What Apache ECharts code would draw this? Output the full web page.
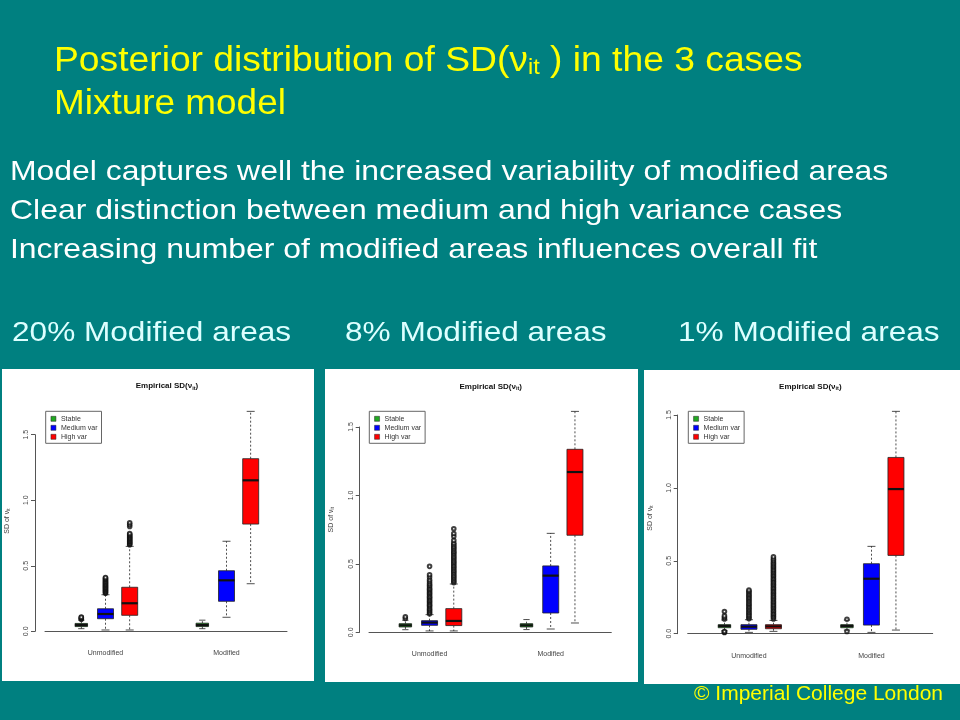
<!DOCTYPE html>
<html>
<head>
<meta charset="utf-8">
<script src="https://cdn.jsdelivr.net/npm/echarts@6/dist/echarts.min.js"></script>
<style>
html,body{margin:0;padding:0;background:#008080;}
#chart{width:960px;height:720px;}
</style>
</head>
<body>
<div id="chart"></div>
<script>
// ---------------- data ----------------
const slideTitle1 = ['Posterior distribution of SD(', 'ν', 'it', ' ) in the 3 cases'];
const slideTitle2 = 'Mixture model';
const bulletLines = [
  'Model captures well the increased variability of modified areas',
  'Clear distinction between medium and high variance cases',
  'Increasing number of modified areas influences overall fit'
];
const caseLabels = ['20% Modified areas', '8% Modified areas', '1% Modified areas'];
const copyright = '© Imperial College London';
const groupLabels = ['Unmodified', 'Modified'];
const seriesNames = ['Stable', 'Medium var', 'High var'];
const yTicks = [0, 0.5, 1.0, 1.5];

// five-number summaries [min, Q1, median, Q3, max] for [Unmodified, Modified]
const p20Stable = [[0.020, 0.036, 0.048, 0.060, 0.085], [0.020, 0.036, 0.048, 0.062, 0.085]];
const p20Medium = [[0.010, 0.096, 0.132, 0.172, 0.279], [0.107, 0.229, 0.389, 0.462, 0.687]];
const p20High   = [[0.010, 0.122, 0.214, 0.336, 0.648], [0.363, 0.818, 1.152, 1.317, 1.678]];

const p8Stable = [[0.019, 0.039, 0.051, 0.063, 0.088], [0.020, 0.039, 0.051, 0.063, 0.093]];
const p8Medium = [[0.010, 0.051, 0.071, 0.085, 0.129], [0.024, 0.141, 0.414, 0.485, 0.723]];
const p8High   = [[0.010, 0.049, 0.083, 0.173, 0.353], [0.068, 0.709, 1.171, 1.337, 1.614]];

const p1Stable = [[0.021, 0.041, 0.053, 0.062, 0.094], [0.025, 0.041, 0.053, 0.062, 0.094]];
const p1Medium = [[0.009, 0.030, 0.048, 0.062, 0.096], [0.009, 0.059, 0.377, 0.480, 0.599]];
const p1High   = [[0.016, 0.034, 0.050, 0.062, 0.091], [0.025, 0.537, 0.992, 1.209, 1.525]];

// outliers [Unmodified values, Modified values]
const p20StableOut = [[0.092, 0.098, 0.104, 0.108], []];
const p20MediumOut = [[0.290, 0.296, 0.303, 0.309, 0.316, 0.321, 0.328, 0.334, 0.339, 0.346, 0.352, 0.357, 0.364, 0.371, 0.377, 0.383, 0.391, 0.398, 0.404, 0.411], []];
const p20HighOut   = [[0.660, 0.667, 0.673, 0.681, 0.688, 0.694, 0.702, 0.709, 0.715, 0.723, 0.731, 0.738, 0.746, 0.800, 0.814, 0.828], []];

const p8StableOut = [[0.100, 0.113], []];
const p8MediumOut = [[0.136, 0.144, 0.156, 0.165, 0.174, 0.186, 0.195, 0.204, 0.216, 0.225, 0.234, 0.246, 0.255, 0.264, 0.276, 0.285, 0.294, 0.306, 0.315, 0.324, 0.336, 0.345, 0.357, 0.371, 0.384, 0.404, 0.421, 0.482], []];
const p8HighOut   = [[0.362, 0.373, 0.384, 0.396, 0.407, 0.418, 0.431, 0.442, 0.453, 0.466, 0.477, 0.488, 0.501, 0.512, 0.523, 0.536, 0.547, 0.558, 0.571, 0.582, 0.593, 0.606, 0.617, 0.628, 0.641, 0.652, 0.672, 0.701, 0.722, 0.757], []];

const p1StableOut = [[0.008, 0.012, 0.015, 0.101, 0.111, 0.122, 0.152], [0.015, 0.099]];
const p1MediumOut = [[0.102, 0.111, 0.122, 0.131, 0.142, 0.151, 0.162, 0.171, 0.182, 0.191, 0.202, 0.211, 0.222, 0.231, 0.242, 0.251, 0.262, 0.271, 0.282, 0.291, 0.300], []];
const p1HighOut   = [[0.101, 0.112, 0.121, 0.132, 0.141, 0.152, 0.161, 0.172, 0.181, 0.192, 0.201, 0.212, 0.221, 0.232, 0.241, 0.252, 0.261, 0.272, 0.281, 0.292, 0.301, 0.312, 0.321, 0.332, 0.341, 0.352, 0.361, 0.372, 0.381, 0.392, 0.401, 0.412, 0.421, 0.432, 0.441, 0.452, 0.461, 0.472, 0.481, 0.492, 0.503, 0.514, 0.527], []];

// ---------------- layout / style ----------------
const FONT = 'Liberation Sans, Arial, sans-serif';
const colors = ['#22a822', '#0000ff', '#ff0000'];
const boxWidths = [12.5, 16, 16];
const panels = [
  { stats: [p20Stable, p20Medium, p20High], outs: [p20StableOut, p20MediumOut, p20HighOut],
    rect: [2, 369, 312, 312], grid: [45, 434.7, 242, 196.6], yOff: 10, xOff: 7.7,
    title: [167, 386], legend: [45.7, 411.3], yName: [7, 521] },
  { stats: [p8Stable, p8Medium, p8High], outs: [p8StableOut, p8MediumOut, p8HighOut],
    rect: [325, 369, 313, 313], grid: [369, 427, 242.3, 205.3], yOff: 9.3, xOff: 7.7,
    title: [490.7, 386.3], legend: [369.3, 411.3], yName: [331.3, 519.7] },
  { stats: [p1Stable, p1Medium, p1High], outs: [p1StableOut, p1MediumOut, p1HighOut],
    rect: [644, 370, 316, 314], grid: [687.7, 415, 245, 218.7], yOff: 10, xOff: 8.3,
    title: [810.3, 386.3], legend: [688.3, 411.3], yName: [650.3, 518] }
];
const NSLOT = 10;
const slotOf = (g, s) => 1 + s + 5 * g;
const slotNames = Array.from({ length: NSLOT }, (_, i) => 's' + i);
slotNames[2] = groupLabels[0];
slotNames[7] = groupLabels[1];
const labelSlots = [2, 7];

function makeRender(boxW) {
  return function (params, api) {
    const x = api.value(0);
    const pMin = api.coord([x, api.value(1)]);
    const pQ1 = api.coord([x, api.value(2)]);
    const pMed = api.coord([x, api.value(3)]);
    const pQ3 = api.coord([x, api.value(4)]);
    const pMax = api.coord([x, api.value(5)]);
    const cx = pMin[0];
    const hw = boxW / 2, cap = boxW / 4;
    const dash = { stroke: '#222', lineWidth: 0.8, lineDash: [2, 2] };
    const solid = { stroke: '#222', lineWidth: 0.8 };
    return {
      type: 'group',
      children: [
        { type: 'line', shape: { x1: cx, y1: pQ3[1], x2: cx, y2: pMax[1] }, style: dash },
        { type: 'line', shape: { x1: cx, y1: pQ1[1], x2: cx, y2: pMin[1] }, style: dash },
        { type: 'line', shape: { x1: cx - cap, y1: pMax[1], x2: cx + cap, y2: pMax[1] }, style: solid },
        { type: 'line', shape: { x1: cx - cap, y1: pMin[1], x2: cx + cap, y2: pMin[1] }, style: solid },
        { type: 'rect', shape: { x: cx - hw, y: pQ3[1], width: boxW, height: pQ1[1] - pQ3[1] },
          style: { fill: api.visual('color'), stroke: '#222', lineWidth: 0.8 } },
        { type: 'line', shape: { x1: cx - hw, y1: pMed[1], x2: cx + hw, y2: pMed[1] },
          style: { stroke: '#111', lineWidth: 2.2 } }
      ]
    };
  };
}

const grids = [], xAxes = [], yAxes = [], series = [], legends = [], graphics = [];

panels.forEach((p, pi) => {
  graphics.push({ type: 'rect', z: -10, shape: { x: p.rect[0], y: p.rect[1], width: p.rect[2], height: p.rect[3] },
    style: { fill: '#ffffff' } });
  graphics.push({ type: 'text', x: p.title[0], y: p.title[1],
    style: { text: '{b|Empirical SD(ν}{s|it}{b|)}', align: 'center', verticalAlign: 'middle',
      rich: { b: { fontSize: 8, fontWeight: 'bold', fontFamily: FONT, fill: '#111' },
              s: { fontSize: 5.5, fontWeight: 'bold', fontFamily: FONT, fill: '#111', padding: [4, 0, 0, 0] } } } });
  graphics.push({ type: 'text', x: p.yName[0], y: p.yName[1], rotation: Math.PI / 2,
    style: { text: '{a|SD of ν}{s|it}', align: 'center', verticalAlign: 'middle',
      rich: { a: { fontSize: 7, fontFamily: FONT, fill: '#444' },
              s: { fontSize: 5, fontFamily: FONT, fill: '#444', padding: [3, 0, 0, 0] } } } });

  grids.push({ left: p.grid[0], top: p.grid[1], width: p.grid[2], height: p.grid[3] });
  xAxes.push({
    type: 'category', gridIndex: pi, data: slotNames, boundaryGap: true, offset: p.xOff,
    axisLine: { lineStyle: { color: '#555', width: 1 } },
    axisTick: { alignWithLabel: true, length: 4, interval: (i) => labelSlots.includes(i), lineStyle: { color: '#555' } },
    axisLabel: { interval: (i) => labelSlots.includes(i), margin: 10.5, fontSize: 7, color: '#444', fontFamily: FONT },
    splitLine: { show: false }
  });
  yAxes.push({
    type: 'value', gridIndex: pi, min: yTicks[0], max: yTicks[yTicks.length - 1], interval: 0.5, offset: p.yOff,
    axisLine: { show: true, lineStyle: { color: '#555', width: 1 } },
    axisTick: { show: true, length: 4, lineStyle: { color: '#555' } },
    axisLabel: { rotate: 90, margin: 5, fontSize: 7, color: '#444', fontFamily: FONT,
      formatter: (v) => v.toFixed(1) },
    splitLine: { show: false }
  });
  seriesNames.forEach((name, s) => {
    series.push({
      type: 'custom', name: name, xAxisIndex: pi, yAxisIndex: pi,
      color: colors[s], renderItem: makeRender(boxWidths[s]),
      encode: { x: 0, y: [1, 2, 3, 4, 5] },
      data: p.stats[s].map((st, g) => [slotOf(g, s)].concat(st)),
      z: 3
    });
  });
  seriesNames.forEach((name, s) => {
    const pts = [];
    p.outs[s].forEach((vals, g) => vals.forEach(v => pts.push([slotOf(g, s), v])));
    series.push({
      type: 'scatter', name: name + ' outliers', xAxisIndex: pi, yAxisIndex: pi,
      symbol: 'emptyCircle', symbolSize: 3.6,
      itemStyle: { color: '#111', borderWidth: 0.7 },
      data: pts, z: 4, silent: true
    });
  });
  legends.push({
    orient: 'vertical', left: p.legend[0], top: p.legend[1], data: seriesNames,
    icon: 'rect', itemWidth: 5, itemHeight: 5, itemGap: 2, padding: [4, 4, 3, 5],
    borderColor: '#666', borderWidth: 1, backgroundColor: '#fff',
    itemStyle: { borderColor: '#222', borderWidth: 0.5 },
    textStyle: { fontSize: 7, color: '#333', fontFamily: FONT }
  });
});

// slide text
graphics.push({ type: 'text', x: 54, y: 61, scaleX: 1.064,
  style: { text: '{a|' + slideTitle1[0] + '}{a|' + slideTitle1[1] + '}{s|' + slideTitle1[2] + '}{a|' + slideTitle1[3] + '}',
    verticalAlign: 'middle',
    rich: { a: { fontSize: 35, fontFamily: FONT, fill: '#ffff00' },
            s: { fontSize: 22, fontFamily: FONT, fill: '#ffff00', padding: [14, 0, 0, 0] } } } });
graphics.push({ type: 'text', x: 54, y: 104.5, scaleX: 1.055,
  style: { text: slideTitle2, fontSize: 35, fontFamily: FONT, fill: '#ffff00', verticalAlign: 'middle' } });
const bulletY = [172.5, 211.5, 250];
bulletLines.forEach((t, i) => graphics.push({ type: 'text', x: 10, y: bulletY[i], scaleX: 1.14,
  style: { text: t, fontSize: 28, fontFamily: FONT, fill: '#ffffff', verticalAlign: 'middle' } }));
const caseX = [12, 345, 678];
caseLabels.forEach((t, i) => graphics.push({ type: 'text', x: caseX[i], y: 333, scaleX: 1.128,
  style: { text: t, fontSize: 28, fontFamily: FONT, fill: '#ddffff', verticalAlign: 'middle' } }));
graphics.push({ type: 'text', x: 943, y: 694, 
  style: { text: copyright, fontSize: 21, fontFamily: FONT, fill: '#ffff00', align: 'right', verticalAlign: 'middle' } });

const chart = echarts.init(document.getElementById('chart'), null, { renderer: 'canvas', width: 960, height: 720 });
chart.setOption({
  backgroundColor: '#008080',
  animation: false,
  grid: grids, xAxis: xAxes, yAxis: yAxes, legend: legends, series: series,
  graphic: { elements: graphics }
});
</script>
</body>
</html>
